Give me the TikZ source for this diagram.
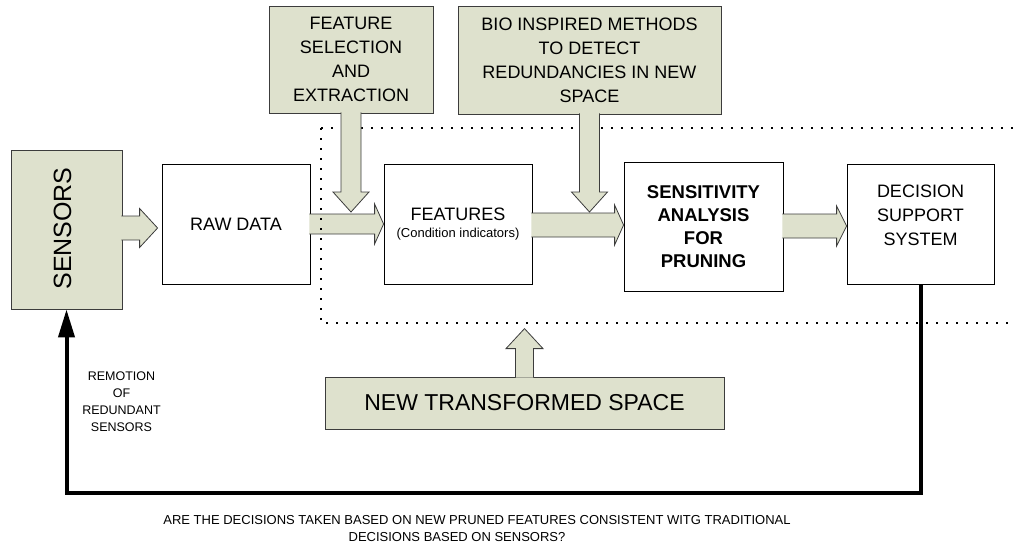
\documentclass[tikz,border=0pt]{standalone}
\usepackage{fontspec}
\setmainfont{Liberation Sans}
\usetikzlibrary{positioning,calc,arrows.meta}
\definecolor{sage}{RGB}{222,225,205}
\definecolor{rim}{RGB}{60,60,60}

\begin{document}
\begin{tikzpicture}[
  x=1pt,y=-1pt,
  box/.style={draw,fill=white,line width=0.8pt,align=center,inner sep=2pt,font=\fontsize{18}{24}\selectfont},
  tan/.style={box,fill=sage,draw=rim},
  txt/.style={align=center,inner sep=0pt,font=\fontsize{18}{24}\selectfont},
  small/.style={align=center,inner sep=0pt,font=\fontsize{12.5}{17}\selectfont},
  fat/.style n args={3}{fill=sage,draw=rim,line width=0.8pt,
    to path={let \p1=(\tikztostart), \p2=(\tikztotarget),
      \n1={veclen(\x2-\x1,\y2-\y1)}, \n2={atan2(\y2-\y1,\x2-\x1)} in
      ([shift={(\p1)},rotate=\n2]0pt,#1)
      -- ([shift={(\p1)},rotate=\n2]\n1-#3,#1)
      -- ([shift={(\p1)},rotate=\n2]\n1-#3,#2)
      -- ([shift={(\p1)},rotate=\n2]\n1,0pt)
      -- ([shift={(\p1)},rotate=\n2]\n1-#3,-#2)
      -- ([shift={(\p1)},rotate=\n2]\n1-#3,-#1)
      -- ([shift={(\p1)},rotate=\n2]0pt,-#1)}},
  dots/.style={line width=2pt,dash pattern=on 2pt off 8pt},
  feedback/.style={line width=4pt,-{Triangle[length=28pt,width=16pt]}}
]
\useasboundingbox (0,0) rectangle (1015,543);

% boxes of the chain
\node[tan,minimum width=111pt,minimum height=159pt] (sensors) at (66.5,229.5) {};
\node[rotate=90,inner sep=0pt,font=\fontsize{25}{30}\selectfont] (sensorslbl) at (62.5,228.5) {SENSORS};
\node[box,minimum width=148pt,minimum height=120pt] (raw) at (236,224) {RAW DATA};
\node[box,minimum width=148pt,minimum height=120pt] (feat) at (458,224)
  {FEATURES\\[-7pt]{\fontsize{13}{17}\selectfont (Condition indicators)}};
\node[box,minimum width=159pt,minimum height=129pt,font=\bfseries\fontsize{18.5}{23}\selectfont] (sens) at (703.5,226.5)
  {SENSITIVITY\\ANALYSIS\\FOR\\PRUNING};
\node[box,minimum width=147pt,minimum height=120pt] (dss) at (920.5,224) {};
\node[txt] (dsslbl) at (920.5,215) {DECISION\\SUPPORT\\SYSTEM};

% helper boxes
\node[tan,minimum width=164pt,minimum height=107pt] (fsel) at (351,59.5) {FEATURE\\SELECTION\\AND\\EXTRACTION};
\node[tan,minimum width=263pt,minimum height=108pt] (bio) at (589.5,60)
  {BIO INSPIRED METHODS\\TO DETECT\\REDUNDANCIES IN NEW\\SPACE};
\node[tan,minimum width=399pt,minimum height=52pt,font=\fontsize{23}{28}\selectfont] (nts) at (524.5,403) {NEW TRANSFORMED SPACE};

% flow
\draw[fat={12pt}{19.5pt}{18pt}] ($(sensors.east |- raw.west)+(-1,4)$) to ($(raw.west)+(-4,4)$);
\draw[fat={10pt}{20pt}{9pt}] ($(raw.east)+(-1,0)$) to (feat.west);
\draw[fat={12pt}{20pt}{9pt}] ($(feat.east)+(-1,1)$) to ($(sens.west |- feat.east)+(0,1)$);
\draw[fat={12pt}{20pt}{10pt}] ($(sens.east |- dss.west)+(-1,2)$) to ($(dss.west)+(0,2)$);

% new space frame
\draw[dots] (321,128) -- (1015,128);
\draw[dots] (321,128) -- (321,323) -- (1015,323);

\draw[fat={10pt}{18pt}{20pt}] ($(fsel.south)+(0,-1)$) to ($(fsel.south |- feat.west)+(0,-12)$);
\draw[fat={10pt}{18pt}{20pt}] ($(bio.south)+(0,-1)$) to ($(bio.south |- feat.west)+(0,-12)$);
\draw[fat={9pt}{18.5pt}{20pt}] ($(nts.north)+(0,1)$) to ($(nts.north)+(0,-48)$);

% loop back
\coordinate (lowrow) at (0,493);
\draw[feedback] (dss.south) -- (dss.south |- lowrow) -| (sensors.south);
\node[small] (remlbl) at (121.5,402) {REMOTION\\OF\\REDUNDANT\\SENSORS};
\node[align=center,inner sep=0pt,font=\fontsize{13}{17.5}\selectfont] (question) at (477,528.5)
  {ARE THE DECISIONS TAKEN BASED ON NEW PRUNED FEATURES CONSISTENT WITG TRADITIONAL\\DECISIONS BASED ON SENSORS?\hspace*{40pt}};
\end{tikzpicture}
\end{document}
